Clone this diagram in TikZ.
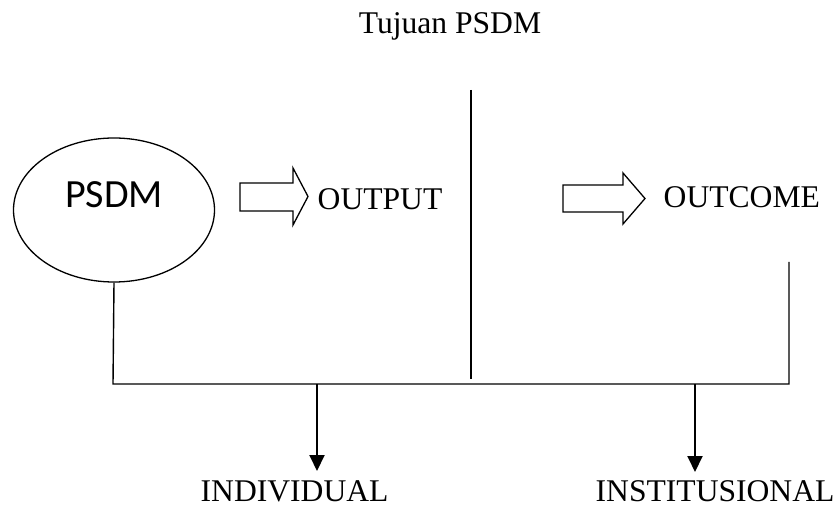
\documentclass[tikz,border=0pt]{standalone}
\usepackage{fontspec}
\setmainfont{Liberation Serif}
\newfontfamily\calibri{Carlito}
\usetikzlibrary{arrows.meta,shapes.geometric}

\begin{document}
\begin{tikzpicture}[x=1pt, y=-1pt,
    line width=1.4pt,
    >={Triangle[width=15pt,length=16pt]},
    lbl/.style = {
      anchor = base west,
      inner sep = 0pt,
      font = \fontsize{31.6}{38}\selectfont
    },
    bubble/.style = {
      draw,
      ellipse,
      line width = 1.3pt,
      minimum width = 201pt,
      minimum height = 144pt
    },
    fatarrow/.style = {
      draw,
      line width = 1.3pt,
      line join = miter
    }
  ]
  \useasboundingbox (0,0) rectangle (835,510);

  % heading
  \node[lbl, anchor=base] (title) at (450,34) {Tujuan PSDM};

  % the bubble
  \node[bubble, label={[font=\calibri\fontsize{40}{48}\selectfont, yshift=15pt]center:PSDM}]
    (psdm) at (114,210) {};

  % hollow arrows and their labels
  \draw[fatarrow] (240,183) -- (293,183) -- (293,168) -- (308,196.5)
    -- (293,225) -- (293,211) -- (240,211) -- cycle;
  \node[lbl] (output) at (317,210) {OUTPUT};

  \draw[fatarrow] (563,185) -- (623,185) -- (623,173) -- (645,198.5)
    -- (623,224) -- (623,212) -- (563,212) -- cycle;
  \node[lbl] (outcome) at (663,208) {OUTCOME};

  % frame lines
  \coordinate (bl) at (113,384);
  \coordinate (br) at (789,384);
  \coordinate (tr) at (789,262);
  \coordinate (mt) at (471,90);
  \coordinate (mb) at (471,379);

  \draw (psdm.south) -- (bl) -- (br) -- (tr);
  \draw (mt) -- (mb);

  % the two results
  \coordinate (d1) at (317,384);
  \coordinate (e1) at (317,471);
  \coordinate (d2) at (695,384);
  \coordinate (e2) at (695,472);

  \draw[->, line width=2pt] (d1) -- (e1);
  \draw[->, line width=2pt] (d2) -- (e2);

  \node[lbl] (individual) at (200,501) {INDIVIDUAL};
  \node[lbl] (institusional) at (595,501) {INSTITUSIONAL};
\end{tikzpicture}
\end{document}
